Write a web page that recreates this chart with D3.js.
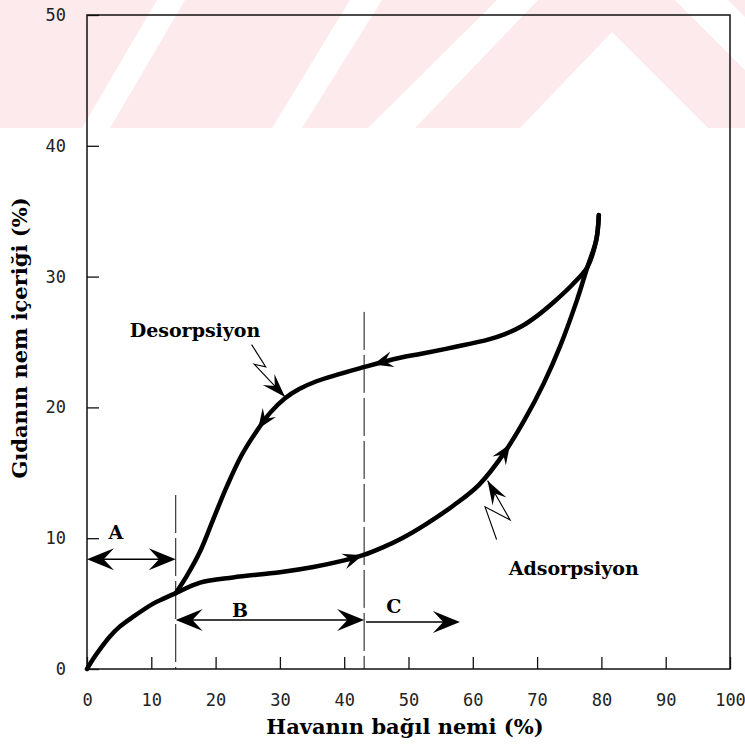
<!DOCTYPE html>
<html>
<head>
<meta charset="utf-8">
<script src="https://cdn.jsdelivr.net/npm/d3@7"></script>
<style>
  body { margin: 0; background: #fff; }
  svg { display: block; }
</style>
</head>
<body>
<div id="chart"></div>
<script>
// tick values
const xTicks = [0, 10, 20, 30, 40, 50, 60, 70, 80, 90, 100];
const yTicks = [0, 10, 20, 30, 40, 50];

// adsorpsiyon (lower branch), x = bagil nem %, y = nem icerigi %
const adsorption = [
  [0, 0], [1, 0.8], [2, 1.5], [3.6, 2.5], [5, 3.2], [7.2, 4.0], [10.3, 5.0],
  [12, 5.4], [13.8, 5.8], [17.6, 6.6], [22.7, 7.0], [30, 7.4], [35.2, 7.8],
  [40, 8.3], [42.9, 8.7], [46, 9.3], [49, 10.0], [52.8, 11.1], [57, 12.5],
  [61, 14.1], [65, 16.6], [68, 19.0], [71, 21.8], [73.6, 24.7], [76.2, 28.2],
  [77.8, 30.7], [79.2, 32.8], [79.6, 34.7]
];

// desorpsiyon (upper branch), drawn from the top end downwards
const desorption = [
  [79.6, 34.7], [79.2, 32.8], [77.8, 30.7], [75.5, 29.4], [72.7, 28.1],
  [70, 27.0], [67.6, 26.2], [65, 25.6], [62.5, 25.2], [57, 24.6], [52, 24.1],
  [48.7, 23.8], [43.2, 23.1], [35.7, 22.0], [33, 21.4], [30.8, 20.7],
  [28.5, 19.6], [26.4, 18.2], [24, 16.3], [21.7, 13.9], [19.6, 11.4],
  [17.6, 9.0], [15.5, 7.1], [13.8, 5.8]
];

// direction arrows along the curves (x of the arrow tip)
const desArrows = [44.5, 26.6];
const adsArrows = [42.9, 65.8];

// region borders (dashed) and range arrows
const regionLines = [
  { x: 13.8, top: 13.3 },
  { x: 43.1, top: 27.3 }
];
const rangeArrows = [
  { label: 'A', x0: 0, x1: 13.8, y: 8.4, both: true, lx: 4.5, ly: 10.5 },
  { label: 'B', x0: 13.8, x1: 43.1, y: 3.75, both: true, lx: 23.8, ly: 4.5 },
  { label: 'C', x0: 43.4, x1: 58.0, y: 3.6, both: false, lx: 47.7, ly: 4.8 }
];

// callout labels with lightning pointers
const callouts = [
  { text: 'Desorpsiyon', lx: 16.8, ly: 25.9,
    pts: [[25.6, 24.8], [27.8, 23.1], [26.0, 23.3], [30.8, 20.8]] },
  { text: 'Adsorpsiyon', lx: 75.7, ly: 7.7,
    pts: [[63.7, 9.9], [61.9, 12.4], [65.8, 11.4], [62.3, 14.4]] }
];

const width = 745, height = 749;
const margin = { top: 15, right: 15, bottom: 80, left: 87 };

const svg = d3.select('#chart')
  .append('svg')
  .attr('width', width)
  .attr('height', height);

// faint watermark band at the top (decoration of the scanned page)
const wm = svg.append('g');
wm.append('rect')
  .attr('width', width)
  .attr('height', 128)
  .style('fill', '#fdeaed');
const wmCuts = [
  [[157, 0], [185, 0], [110, 128], [82, 128]],
  [[350, 0], [382, 0], [302, 128], [272, 128]],
  [[497, 0], [538, 0], [415, 128], [368, 128]],
  [[612, 32], [708, 128], [520, 128]],
  [[675, 0], [728, 0], [745, 17], [745, 70]]
];
wm.selectAll('polygon')
  .data(wmCuts)
  .join('polygon')
  .attr('points', d => d.map(p => p.join(',')).join(' '))
  .style('fill', '#fff');

const x = d3.scaleLinear()
  .domain([0, 100])
  .range([margin.left, width - margin.right]);
const y = d3.scaleLinear()
  .domain([0, 50])
  .range([height - margin.bottom, margin.top]);

const tickFont = '"DejaVu Sans Mono", monospace';
const serif = '"DejaVu Serif", "Liberation Serif", serif';

// axes, ticks pointing inward
const xAxis = svg.append('g')
  .attr('transform', `translate(0, ${y(0)})`)
  .call(d3.axisBottom(x).tickValues(xTicks).tickSizeInner(-12).tickSizeOuter(0).tickPadding(25));
const yAxis = svg.append('g')
  .attr('transform', `translate(${x(0)}, 0)`)
  .call(d3.axisLeft(y).tickValues(yTicks).tickSizeInner(-12).tickSizeOuter(0).tickPadding(21));

[xAxis, yAxis].forEach(ax => {
  ax.select('.domain').remove();
  ax.selectAll('line').attr('stroke', '#111').attr('stroke-width', 1.3);
  ax.selectAll('text')
    .attr('font-family', tickFont)
    .attr('font-size', '17px')
    .attr('fill', '#222');
});

// frame
svg.append('rect')
  .attr('x', x(0))
  .attr('y', y(50))
  .attr('width', x(100) - x(0))
  .attr('height', y(0) - y(50))
  .style('fill', 'none')
  .style('stroke', '#111')
  .style('stroke-width', 1.5);

// axis titles
svg.append('text')
  .text('Havanın bağıl nemi (%)')
  .attr('x', 405)
  .attr('y', 734)
  .attr('text-anchor', 'middle')
  .attr('font-family', serif)
  .attr('font-weight', 'bold')
  .attr('font-size', '21px');

svg.append('text')
  .text('Gıdanın nem içeriği (%)')
  .attr('transform', 'translate(27, 338) rotate(-90)')
  .attr('text-anchor', 'middle')
  .attr('font-family', serif)
  .attr('font-weight', 'bold')
  .attr('font-size', '21px');

// dashed region borders
svg.selectAll('.region')
  .data(regionLines)
  .join('line')
  .attr('class', 'region')
  .attr('x1', d => x(d.x))
  .attr('x2', d => x(d.x))
  .attr('y1', d => y(d.top))
  .attr('y2', y(0))
  .attr('stroke', '#111')
  .attr('stroke-width', 1)
  .attr('stroke-dasharray', '38,5');

// barbed arrowhead, tip at (0,0) pointing to +x
function headPath(len, half) {
  return `M0,0 L${-len},${-half} L${-len * 0.62},0 L${-len},${half} Z`;
}

// curves
const line = d3.line()
  .x(d => x(d[0]))
  .y(d => y(d[1]))
  .curve(d3.curveCatmullRom.alpha(0.5));

function drawCurve(data, arrows) {
  const path = svg.append('path')
    .datum(data)
    .attr('d', line)
    .style('fill', 'none')
    .style('stroke', '#000')
    .style('stroke-width', 4.5)
    .style('stroke-linecap', 'round');

  const node = path.node();
  const total = node.getTotalLength();
  const increasing = data[data.length - 1][0] > data[0][0];

  arrows.forEach(ax => {
    const px = x(ax);
    let lo = 0, hi = total;
    for (let i = 0; i < 40; i++) {
      const mid = (lo + hi) / 2;
      const p = node.getPointAtLength(mid);
      if ((p.x < px) === increasing) lo = mid; else hi = mid;
    }
    const tip = node.getPointAtLength(lo);
    const back = node.getPointAtLength(Math.max(0, lo - 4));
    const ang = Math.atan2(tip.y - back.y, tip.x - back.x) * 180 / Math.PI;
    svg.append('path')
      .attr('d', headPath(20, 8))
      .attr('transform', `translate(${tip.x}, ${tip.y}) rotate(${ang})`)
      .style('fill', '#000');
  });
}

drawCurve(adsorption, adsArrows);
drawCurve(desorption, desArrows);

// range arrows A, B, C
rangeArrows.forEach(r => {
  const g = svg.append('g');
  const yy = y(r.y);
  g.append('line')
    .attr('x1', x(r.x0) + (r.both ? 6 : 0))
    .attr('x2', x(r.x1) - 6)
    .attr('y1', yy)
    .attr('y2', yy)
    .attr('stroke', '#000')
    .attr('stroke-width', 1.5);
  g.append('path')
    .attr('d', headPath(27, 11))
    .attr('transform', `translate(${x(r.x1)}, ${yy})`)
    .style('fill', '#000');
  if (r.both) {
    g.append('path')
      .attr('d', headPath(27, 11))
      .attr('transform', `translate(${x(r.x0)}, ${yy}) rotate(180)`)
      .style('fill', '#000');
  }
  g.append('text')
    .text(r.label)
    .attr('x', x(r.lx))
    .attr('y', y(r.ly))
    .attr('dy', '0.36em')
    .attr('text-anchor', 'middle')
    .attr('font-family', serif)
    .attr('font-weight', 'bold')
    .attr('font-size', '19px');
});

// callouts
callouts.forEach(c => {
  svg.append('text')
    .text(c.text)
    .attr('x', x(c.lx))
    .attr('y', y(c.ly))
    .attr('dy', '0.36em')
    .attr('text-anchor', 'middle')
    .attr('font-family', serif)
    .attr('font-weight', 'bold')
    .attr('font-size', '19px');

  const pts = c.pts.map(p => [x(p[0]), y(p[1])]);
  svg.append('path')
    .attr('d', d3.line()(pts))
    .style('fill', 'none')
    .style('stroke', '#000')
    .style('stroke-width', 1.1);

  const a = pts[pts.length - 2], b = pts[pts.length - 1];
  const ang = Math.atan2(b[1] - a[1], b[0] - a[0]) * 180 / Math.PI;
  svg.append('path')
    .attr('d', headPath(24, 8))
    .attr('transform', `translate(${b[0]}, ${b[1]}) rotate(${ang})`)
    .style('fill', '#000');
});
</script>
</body>
</html>
